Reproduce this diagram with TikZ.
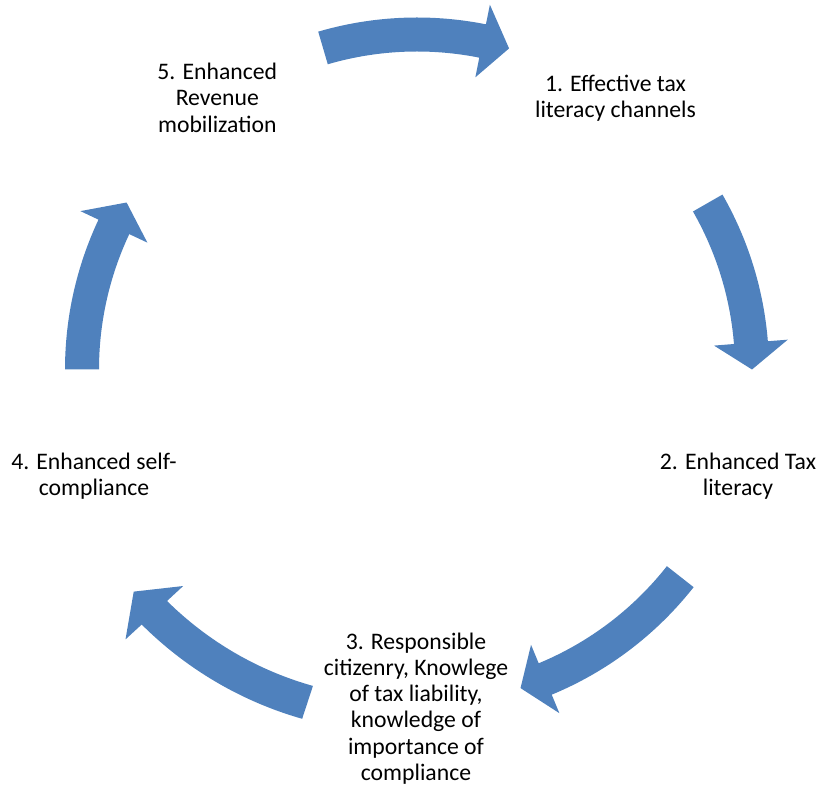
\documentclass[tikz,border=0pt]{standalone}
\usepackage{fontspec}
\newfontfamily\carlito{Carlito}
\definecolor{cyclearrow}{HTML}{4F81BD}
\newcommand{\stagefont}{\carlito\fontsize{23.7bp}{26.2bp}\selectfont}
% curved block arrow around the origin, running clockwise
% #1 tail angle, #2 head-base angle, #3 tip angle,
% #4 radius at tail, #5 radius at head base, #6 half band width,
% #7 half head width, #8 tip radius
\newcommand{\cyclearrowpath}[8]{%
  \fill[arrowfill]
    plot[variable=\s, domain=0:1, samples=40]
      ({(#1)+((#2)-(#1))*\s}:{(#4)+((#5)-(#4))*\s+(#6)})
    -- ({#2}:{(#5)+(#7)})
    -- ({#3}:{#8})
    -- ({#2}:{(#5)-(#7)})
    -- plot[variable=\s, domain=0:1, samples=40]
      ({(#2)+((#1)-(#2))*\s}:{(#5)+((#4)-(#5))*\s-(#6)})
    -- cycle;}
\tikzset{
  arrowfill/.style={fill=cyclearrow},
  stagelabel/.style={align=center, inner sep=0pt, text=black, font=\stagefont}
}
\begin{document}
\begin{tikzpicture}[x=1bp, y=1bp]
  \useasboundingbox (0,0) rectangle (820,786);

  % stage labels
  \node[stagelabel] (s1) at (615.5,688) {1. Effective tax\\literacy channels};
  \node[stagelabel] (s2) at (738,309.6) {2. Enhanced Tax\\literacy};
  \node[stagelabel] (s3) at (416,77.5) {3. Responsible\\citizenry, Knowlege\\of tax liability,\\knowledge of\\importance of\\compliance};
  \node[stagelabel] (s4) at (94,309.6) {4. Enhanced self-\\compliance};
  \node[stagelabel] (s5) at (217.3,688.3) {5. Enhanced\\Revenue\\mobilization};

  % arrows of the cycle
  \begin{scope}[shift={(417,416.5)}]
    \cyclearrowpath{106.3}{78.7}{74.0}{335}{335}{17}{37}{334}   % 5 -> 1
    \cyclearrowpath{29.8}{4.6}{0}{335}{335}{17}{37}{335}        % 1 -> 2
    \cyclearrowpath{-38.2}{-67.5}{-72.0}{335}{335}{17}{37}{335} % 2 -> 3
    \cyclearrowpath{-108.2}{-137.2}{-141.9}{350.4}{358}{17.3}{39.3}{360} % 3 -> 4
    \cyclearrowpath{180}{154.8}{150.1}{335}{335}{17}{37}{335}   % 4 -> 5
  \end{scope}
\end{tikzpicture}
\end{document}
